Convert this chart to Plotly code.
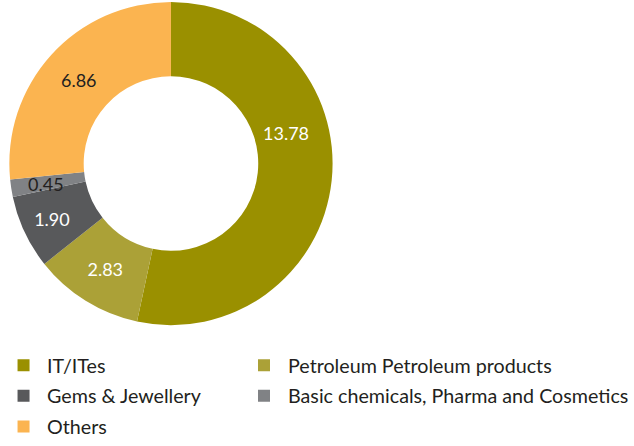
import math
import plotly.graph_objects as go

categories = ["IT/ITes", "Petroleum Petroleum products", "Gems & Jewellery",
              "Basic chemicals, Pharma and Cosmetics", "Others"]
values = [13.78, 2.83, 1.90, 0.45, 6.86]
labels_text = ["13.78", "2.83", "1.90", "0.45", "6.86"]
colors = ["#9a9000", "#aba137", "#58595b", "#808285", "#fbb450"]
text_colors = ["white", "white", "white", "#231f20", "#231f20"]
legend_column = ["legend", "legend2", "legend", "legend2", "legend"]

W, H = 634, 446
# pie geometry (pixels)
cx, cy, R = 172.5, 165.0, 162.0
RD = 165.0  # domain half-size (plotly draws the pie slightly inside its domain)
hole = 0.54


def clamp(v):
    return min(1.0, max(0.0, v))


# labels drawn by the pie itself, except the ones placed as annotations
annot_idx = {0: (0.391, 0.75), 3: (0.45, 0.80)}  # slice index: (fraction along slice, radius fraction)
pie_text = [("" if i in annot_idx else t) for i, t in enumerate(labels_text)]

fig = go.Figure(go.Pie(
    labels=categories,
    values=values,
    text=pie_text,
    textinfo="text",
    textposition="inside",
    insidetextorientation="horizontal",
    textfont=dict(family="Lato", size=18, color=text_colors),
    marker=dict(colors=colors, line=dict(color="white", width=0)),
    hole=hole,
    sort=False,
    direction="clockwise",
    rotation=0,
    showlegend=False,
    domain=dict(x=[clamp((cx - RD) / W), clamp((cx + RD) / W)],
                y=[clamp(1 - (cy + RD) / H), clamp(1 - (cy - RD) / H)]),
))

# legend entries (two columns)
for i, (cat, col, lg) in enumerate(zip(categories, colors, legend_column)):
    fig.add_trace(go.Scatter(
        x=[None], y=[None], mode="markers", name=cat,
        marker=dict(symbol="square", size=12, color=col),
        legend=lg, legendgroup=f"g{i}", showlegend=True, hoverinfo="skip",
    ))

total = sum(values)
cum = 0.0
for i, v in enumerate(values):
    if i in annot_idx:
        frac, rf = annot_idx[i]
        ang = (cum + frac * v) / total * 2 * math.pi
        r = rf * R
        px = cx + r * math.sin(ang)
        py = cy - r * math.cos(ang)
        fig.add_annotation(x=px / W, y=1 - py / H, xref="paper", yref="paper",
                           xanchor="center", yanchor="middle",
                           text=labels_text[i], showarrow=False,
                           font=dict(family="Lato", size=18, color=text_colors[i]))
    cum += v

legend_font = dict(family="Lato", size=19.7, color="#231f20")
fig.update_layout(
    width=W, height=H,
    margin=dict(l=0, r=0, t=0, b=0),
    paper_bgcolor="white",
    plot_bgcolor="white",
    xaxis=dict(visible=False),
    yaxis=dict(visible=False),
    showlegend=True,
    legend=dict(
        x=-2 / W, xanchor="left", y=1 - 349 / H, yanchor="top",
        font=legend_font, tracegroupgap=2, itemwidth=37, bgcolor="rgba(0,0,0,0)",
    ),
    legend2=dict(
        x=243 / W, xanchor="left", y=1 - 349 / H, yanchor="top",
        font=legend_font, tracegroupgap=2, itemwidth=38, bgcolor="rgba(0,0,0,0)",
    ),
)

fig.write_html("out.html", config={"displayModeBar": False},
               post_script="document.body.style.margin='0';")
